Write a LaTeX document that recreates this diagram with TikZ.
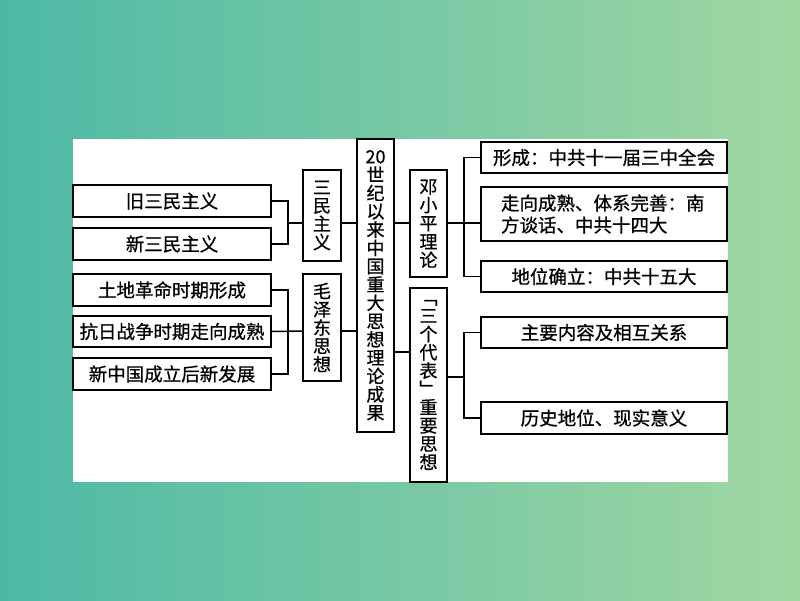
\documentclass[tikz,border=0pt]{standalone}
\usepackage{fontspec}
\setmainfont[FakeBold=0.7]{Noto Sans CJK SC}
\usetikzlibrary{calc}
\definecolor{bgleft}{RGB}{76,185,166}
\definecolor{bgright}{RGB}{162,215,162}
\tikzset{
  box/.style={draw=black, line width=1.8pt, fill=white, inner sep=0pt, text=black, font=\fontsize{18.5}{22}\selectfont},
  vbox/.style={box, align=center, font=\fontsize{18}{18.3}\selectfont},
  conn/.style={line width=1.5pt, draw=black}
}
\begin{document}
\begin{tikzpicture}[x=1pt,y=-1pt]
\useasboundingbox (0,0) rectangle (800,600);
\shade[left color=bgleft, right color=bgright] (0,0) rectangle (800,600);
\fill[white] (73,139) rectangle (728,482);
% left leaves
\node[box, minimum width=198pt, minimum height=32pt] (old) at (172,201) {旧三民主义};
\node[box, minimum width=198pt, minimum height=32pt] (new) at (172,244) {新三民主义};
\node[box, minimum width=198pt, minimum height=32pt] (tudi) at (172,290) {土地革命时期形成};
\node[box, minimum width=198pt, minimum height=31pt] (kangri) at (172,331.5) {抗日战争时期走向成熟};
\node[box, minimum width=198pt, minimum height=32pt] (xinzg) at (172,374) {新中国成立后新发展};
% left middle
\node[vbox, minimum width=38pt, minimum height=91pt] (sanmin) at (322,215.5) {三\\民\\主\\义};
\node[vbox, minimum width=38pt, minimum height=107pt] (mao) at (322,327.5) {毛\\泽\\东\\思\\想};
% root
\node[vbox, minimum width=37pt, minimum height=293pt] (root) at (375.5,285.5) {20\\世\\纪\\以\\来\\中\\国\\重\\大\\思\\想\\理\\论\\成\\果};
% right middle
\node[vbox, minimum width=37pt, minimum height=107pt] (deng) at (428.5,223.5) {邓\\小\\平\\理\\论};
\node[vbox, minimum width=37pt, minimum height=194pt] (sange) at (428.5,385) {﹁\\三\\个\\代\\表\\﹂\\重\\要\\思\\想};
% right leaves
\node[box, minimum width=246pt, minimum height=31pt] (xc) at (604,157.5) {形成：中共十一届三中全会};
\node[box, minimum width=246pt, minimum height=54pt, text width=206pt, align=left] (zx) at (604,214) {走向成熟、体系完善：南\\方谈话、中共十四大};
\node[box, minimum width=246pt, minimum height=31pt] (dw) at (604,276.5) {地位确立：中共十五大};
\node[box, minimum width=246pt, minimum height=31pt] (zy) at (604,332.5) {主要内容及相互关系};
\node[box, minimum width=246pt, minimum height=32pt] (ls) at (604,418) {历史地位、现实意义};
% connectors
\coordinate (j1) at (288,223);
\coordinate (j2) at (288,331);
\coordinate (j3) at (464,223);
\coordinate (j4) at (464,377);
\coordinate (k) at (0,352);
\draw[conn] (old.east) -| (j1) |- (new.east);
\draw[conn] (j1) -- (j1 -| sanmin.west);
\draw[conn] (j1 -| sanmin.east) -- (j1 -| root.west);
\draw[conn] (tudi.east) -| (j2) |- (xinzg.east);
\draw[conn] (kangri.east) -- (j2 -| mao.west);
\draw[conn] (j2 -| mao.east) -- (j2 -| root.west);
\draw[conn] (j1 -| root.east) -- (j1 -| deng.west);
\draw[conn] (j1 -| deng.east) -- (j3);
\draw[conn] (xc.west) -| (j3) |- (dw.west);
\draw[conn] (j3) -- (j3 -| zx.west);
\draw[conn] (k -| root.east) -- (k -| sange.west);
\draw[conn] (j4 -| sange.east) -- (j4);
\draw[conn] (zy.west) -| (j4) |- (ls.west);
\end{tikzpicture}
\end{document}
